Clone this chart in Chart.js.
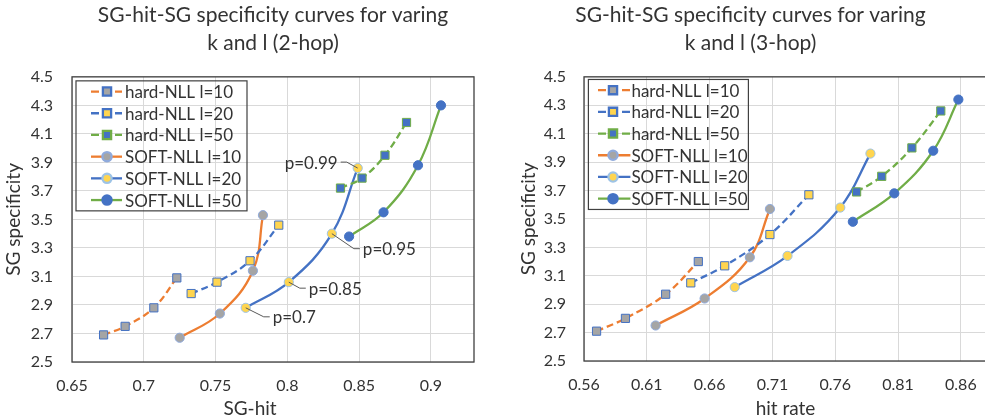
<!DOCTYPE html>
<html>
<head>
<meta charset="utf-8">
<script src="https://cdn.jsdelivr.net/npm/chart.js@4.4.0/dist/chart.umd.min.js"></script>
<style>
  html, body { margin: 0; padding: 0; background: #fff; overflow: hidden; }
  #wrap { position: relative; width: 985px; height: 420px; overflow: hidden; }
  #box2 { position: absolute; left: 0; top: 0; }
  #box3 { position: absolute; left: 495px; top: 0; }
</style>
</head>
<body>
<div id="wrap">
  <div id="box2"><canvas id="hop2" width="490" height="420"></canvas></div>
  <div id="box3"><canvas id="hop3" width="525" height="420"></canvas></div>
</div>
<script>
// series names, same for both charts
const seriesNames = ['hard-NLL l=10', 'hard-NLL l=20', 'hard-NLL l=50',
                     'SOFT-NLL l=10', 'SOFT-NLL l=20', 'SOFT-NLL l=50'];

// 2-hop: SG-hit (x) and SG specificity (y)
const hop2Hard10X = [0.672, 0.687, 0.707, 0.723];
const hop2Hard10Y = [2.69, 2.75, 2.88, 3.09];
const hop2Hard20X = [0.733, 0.751, 0.774, 0.794];
const hop2Hard20Y = [2.98, 3.06, 3.21, 3.46];
const hop2Hard50X = [0.837, 0.852, 0.868, 0.883];
const hop2Hard50Y = [3.72, 3.79, 3.95, 4.18];
const hop2Soft10X = [0.725, 0.753, 0.776, 0.783];
const hop2Soft10Y = [2.67, 2.84, 3.14, 3.53];
const hop2Soft20X = [0.771, 0.801, 0.831, 0.849];
const hop2Soft20Y = [2.88, 3.06, 3.40, 3.86];
const hop2Soft50X = [0.843, 0.867, 0.891, 0.907];
const hop2Soft50Y = [3.38, 3.55, 3.88, 4.30];
const pLabels = ['p=0.7', 'p=0.85', 'p=0.95', 'p=0.99']; // on SOFT-NLL l=20 points

// 3-hop: hit rate (x) and SG specificity (y)
const hop3Hard10X = [0.570, 0.593, 0.625, 0.651];
const hop3Hard10Y = [2.71, 2.80, 2.97, 3.20];
const hop3Hard20X = [0.645, 0.672, 0.708, 0.739];
const hop3Hard20Y = [3.05, 3.17, 3.39, 3.67];
const hop3Hard50X = [0.777, 0.797, 0.821, 0.844];
const hop3Hard50Y = [3.69, 3.80, 4.00, 4.26];
const hop3Soft10X = [0.617, 0.656, 0.692, 0.708];
const hop3Soft10Y = [2.75, 2.94, 3.23, 3.57];
const hop3Soft20X = [0.680, 0.722, 0.764, 0.788];
const hop3Soft20Y = [3.02, 3.24, 3.58, 3.96];
const hop3Soft50X = [0.774, 0.807, 0.838, 0.858];
const hop3Soft50Y = [3.48, 3.68, 3.98, 4.34];

// axis ticks
const hop2XTicks = [0.65, 0.7, 0.75, 0.8, 0.85, 0.9];
const hop3XTicks = [0.56, 0.61, 0.66, 0.71, 0.76, 0.81, 0.86];
const yTicks = [2.5, 2.7, 2.9, 3.1, 3.3, 3.5, 3.7, 3.9, 4.1, 4.3, 4.5];

const FONT = 'Lato, "Liberation Sans", sans-serif';
const TXT = '#333333';

const seriesStyles = [
  { line: '#ED7D31', fill: '#A5A5A5', edge: '#4472C4', shape: 'rect', dash: [7, 4], r: 5.8 },
  { line: '#4472C4', fill: '#FFD54F', edge: '#4472C4', shape: 'rect', dash: [7, 4], r: 5.8 },
  { line: '#70AD47', fill: '#4472C4', edge: '#70AD47', shape: 'rect', dash: [7, 4], r: 5.8 },
  { line: '#ED7D31', fill: '#A5A5A5', edge: '#8FAADC', shape: 'circle', dash: [], r: 4.6 },
  { line: '#4472C4', fill: '#FFD54F', edge: '#9DC3E6', shape: 'circle', dash: [], r: 4.6 },
  { line: '#70AD47', fill: '#4472C4', edge: '#4472C4', shape: 'circle', dash: [], r: 4.6 }
];

function toPoints(xs, ys) {
  return xs.map((x, i) => ({ x: x, y: ys[i] }));
}

function buildDatasets(pairs) {
  return pairs.map((p, i) => {
    const s = seriesStyles[i];
    return {
      label: seriesNames[i],
      data: toPoints(p[0], p[1]),
      showLine: true,
      tension: 0.4,
      borderColor: s.line,
      borderWidth: 2.3,
      borderDash: s.dash,
      pointStyle: s.shape,
      pointRadius: s.r,
      pointHoverRadius: s.r,
      pointBackgroundColor: s.fill,
      pointBorderColor: s.edge,
      pointBorderWidth: 1
    };
  });
}

// frame around plot area
const plotFrame = {
  id: 'plotFrame',
  afterDraw(chart) {
    const a = chart.chartArea, ctx = chart.ctx;
    ctx.save();
    ctx.strokeStyle = '#404040';
    ctx.lineWidth = 1.3;
    ctx.strokeRect(a.left, a.top, a.right - a.left, a.bottom - a.top);
    ctx.restore();
  }
};

// legend box drawn inside plot area
const boxLegend = {
  id: 'boxLegend',
  afterDraw(chart, args, o) {
    const ctx = chart.ctx, a = chart.chartArea;
    const x0 = a.left + o.dx, y0 = a.top + o.dy;
    ctx.save();
    ctx.strokeStyle = '#404040';
    ctx.lineWidth = 1.2;
    ctx.strokeRect(x0, y0, o.w, o.h);
    ctx.font = '17px ' + FONT;
    ctx.textBaseline = 'middle';
    chart.data.datasets.forEach((ds, i) => {
      const s = seriesStyles[i];
      const cy = y0 + o.first + i * o.row;
      ctx.strokeStyle = s.line;
      ctx.lineWidth = 2.3;
      ctx.setLineDash(s.dash.length ? [8, 4] : []);
      ctx.beginPath();
      ctx.moveTo(x0 + o.lineA, cy);
      ctx.lineTo(x0 + o.lineB, cy);
      ctx.stroke();
      ctx.setLineDash([]);
      ctx.fillStyle = s.fill;
      ctx.strokeStyle = s.edge;
      Chart.helpers.drawPoint(ctx, { pointStyle: s.shape, radius: s.r, borderWidth: 1, rotation: 0 },
        x0 + o.mark, cy);
      ctx.fillStyle = TXT;
      ctx.fillText(ds.label, x0 + o.text, cy + 1);
    });
    ctx.restore();
  }
};

// x axis caption and point call-outs
const extraText = {
  id: 'extraText',
  afterDraw(chart, args, o) {
    const ctx = chart.ctx;
    ctx.save();
    ctx.fillStyle = TXT;
    ctx.font = '19px ' + FONT;
    ctx.textAlign = 'center';
    ctx.textBaseline = 'middle';
    ctx.fillText(o.caption, o.cx, o.cy);
    (o.callouts || []).forEach(c => {
      const el = chart.getDatasetMeta(c.ds).data[c.i];
      const tx = el.x + c.dx, ty = el.y + c.dy;
      ctx.strokeStyle = '#595959';
      ctx.lineWidth = 1;
      ctx.beginPath();
      ctx.moveTo(el.x, el.y);
      ctx.lineTo(tx - (c.dx > 0 ? 6 : -6), ty);
      ctx.lineTo(tx, ty);
      ctx.stroke();
      ctx.font = '17px ' + FONT;
      ctx.textAlign = c.dx > 0 ? 'left' : 'right';
      ctx.fillText(c.text, tx + (c.dx > 0 ? 3 : -3), ty + 1);
    });
    ctx.restore();
  }
};

function makeChart(id, pairs, xr, xTicks, cfg) {
  new Chart(document.getElementById(id), {
    type: 'scatter',
    data: { datasets: buildDatasets(pairs) },
    plugins: [plotFrame, boxLegend, extraText],
    options: {
      responsive: false,
      animation: false,
      devicePixelRatio: 1,
      layout: { padding: cfg.padding },
      plugins: {
        legend: { display: false },
        tooltip: { enabled: false },
        title: {
          display: true,
          text: cfg.title,
          color: TXT,
          fullSize: cfg.titleFull,
          font: { family: FONT, size: 21, weight: 'normal', lineHeight: 1.33 },
          padding: { top: 1, bottom: 20 }
        },
        boxLegend: cfg.legend,
        extraText: cfg.extra
      },
      scales: {
        x: {
          type: 'linear',
          min: xr[0],
          max: xr[1],
          afterBuildTicks: s => { s.ticks = xTicks.map(v => ({ value: v })); },
          afterFit: s => { s.height = cfg.xH; },
          grid: { color: '#D9D9D9', lineWidth: 1, drawTicks: false },
          border: { display: false },
          ticks: {
            color: TXT, padding: 14,
            font: { family: FONT, size: 16 },
            callback: v => String(v)
          }
        },
        y: {
          type: 'linear',
          min: 2.5,
          max: 4.5,
          afterBuildTicks: s => { s.ticks = yTicks.map(v => ({ value: v })); },
          afterFit: s => { s.width = cfg.yW; },
          grid: { color: '#D9D9D9', lineWidth: 1, drawTicks: false },
          border: { display: false },
          ticks: {
            color: TXT, padding: cfg.yPad,
            font: { family: FONT, size: 16 },
            callback: v => v.toFixed(1)
          },
          title: {
            display: true,
            text: 'SG specificity',
            color: TXT,
            padding: { top: 2, bottom: 0 },
            font: { family: FONT, size: 19 }
          }
        }
      }
    }
  });
}

makeChart('hop2',
  [[hop2Hard10X, hop2Hard10Y], [hop2Hard20X, hop2Hard20Y], [hop2Hard50X, hop2Hard50Y],
   [hop2Soft10X, hop2Soft10Y], [hop2Soft20X, hop2Soft20Y], [hop2Soft50X, hop2Soft50Y]],
  [0.65, 0.93], hop2XTicks,
  {
    title: ['SG-hit-SG specificity curves for varing', 'k and l (2-hop)'],
    titleFull: false,
    padding: { left: 0, right: 16, top: 0, bottom: 0 },
    xH: 58, yW: 72, yPad: 19,
    legend: { dx: 4, dy: 4, w: 171, h: 130, first: 10.7, row: 21.7, lineA: 15, lineB: 46, mark: 31, text: 49 },
    extra: {
      caption: 'SG-hit', cx: 250, cy: 409,
      callouts: [
        { ds: 4, i: 0, text: pLabels[0], dx: 24, dy: 9 },
        { ds: 4, i: 1, text: pLabels[1], dx: 17, dy: 6 },
        { ds: 4, i: 2, text: pLabels[2], dx: 28, dy: 15 },
        { ds: 4, i: 3, text: pLabels[3], dx: -17, dy: -6 }
      ]
    }
  });

makeChart('hop3',
  [[hop3Hard10X, hop3Hard10Y], [hop3Hard20X, hop3Hard20Y], [hop3Hard50X, hop3Hard50Y],
   [hop3Soft10X, hop3Soft10Y], [hop3Soft20X, hop3Soft20Y], [hop3Soft50X, hop3Soft50Y]],
  [0.56, 0.88], hop3XTicks,
  {
    title: ['SG-hit-SG specificity curves for varing', 'k and l (3-hop)'],
    titleFull: true,
    padding: { left: 20, right: 34, top: 0, bottom: 0 },
    xH: 59, yW: 69, yPad: 18,
    legend: { dx: 4.4, dy: 2.6, w: 160, h: 130, first: 10.7, row: 21.7, lineA: 9.6, lineB: 42, mark: 24.6, text: 43 },
    extra: { caption: 'hit rate', cx: 290.5, cy: 409 }
  });
</script>
</body>
</html>
